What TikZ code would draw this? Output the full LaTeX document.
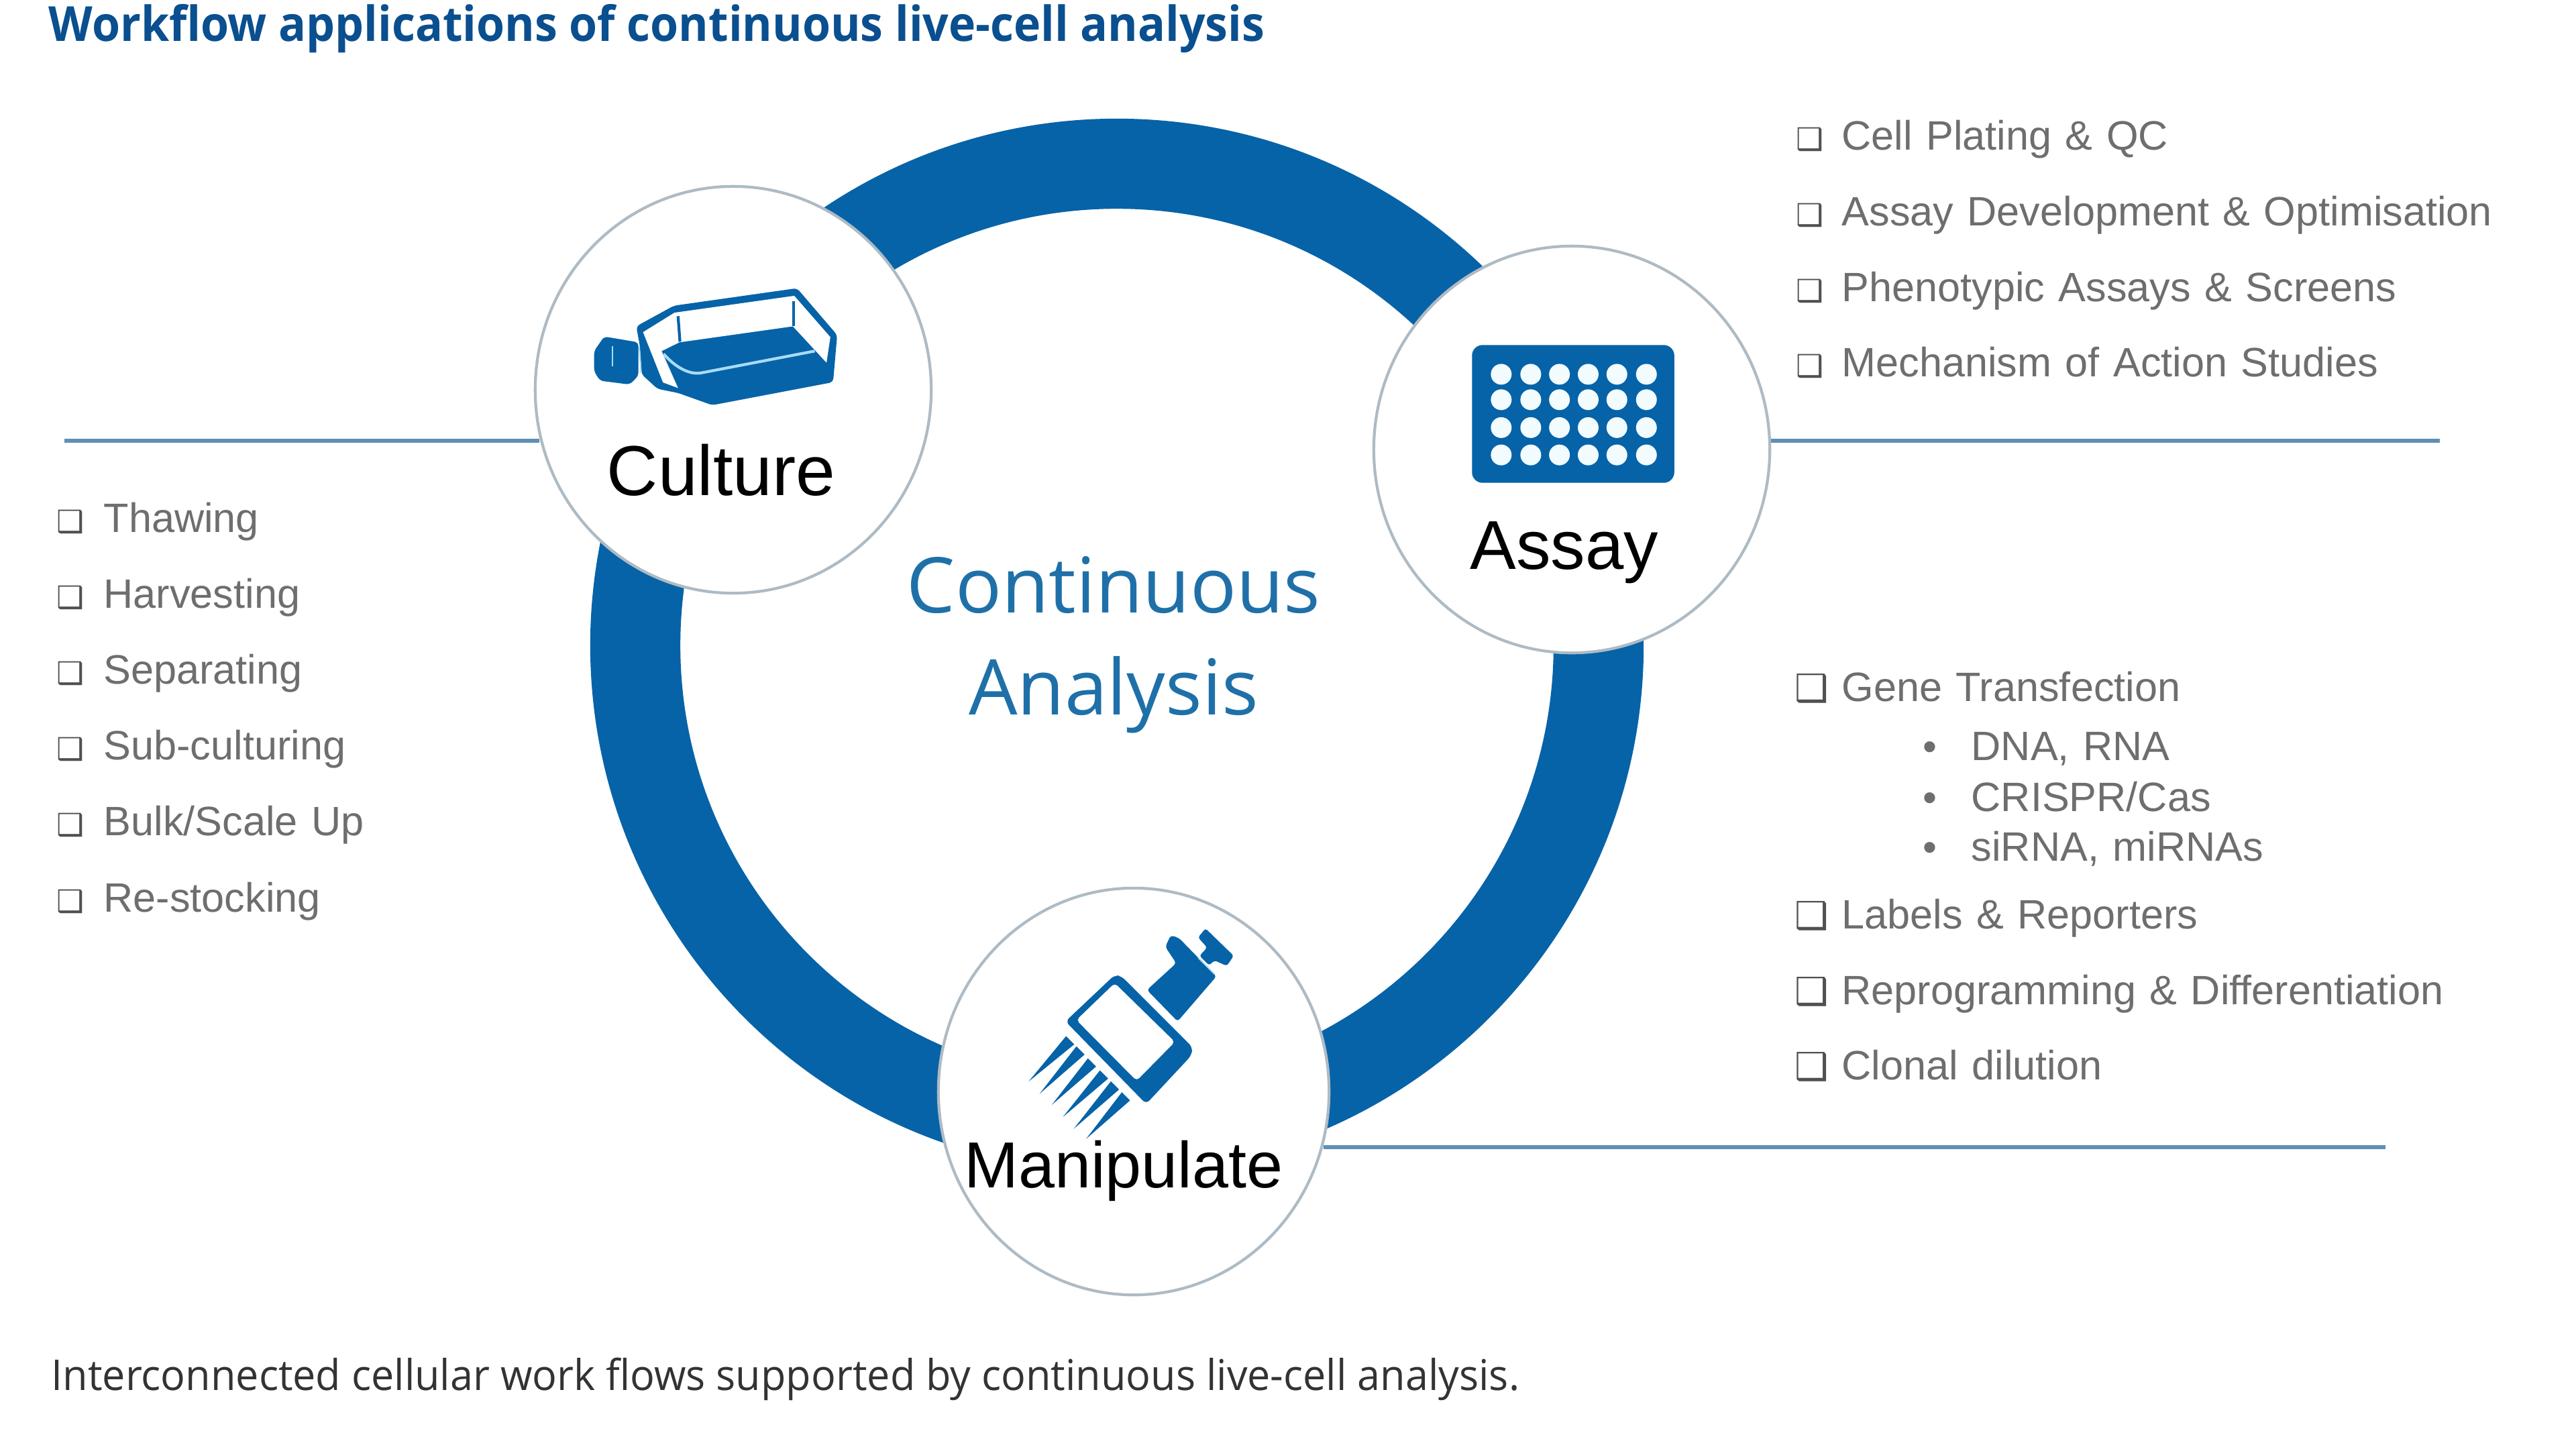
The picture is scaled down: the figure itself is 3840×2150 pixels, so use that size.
\documentclass[tikz,border=0pt]{standalone}
\usepackage{fontspec}
\usetikzlibrary{shapes.geometric}
\setmainfont{Liberation Sans}
\newfontfamily\headfont{Open Sans}
\newfontfamily\symfont{DejaVu Sans}
\definecolor{ringblue}{HTML}{0663A8}
\definecolor{titleblue}{HTML}{0A4F8F}
\definecolor{midblue}{HTML}{1F70A8}
\definecolor{ruleblue}{HTML}{5F8FB5}
\definecolor{circgray}{HTML}{AEBBC4}
\definecolor{listgray}{HTML}{6E6E6E}
\definecolor{tickgray}{HTML}{505050}
\definecolor{capgray}{HTML}{333333}
\definecolor{paleblue}{HTML}{A8DCF6}
\definecolor{wellwhite}{HTML}{F2FCFF}
\newcommand{\fsz}[1]{\fontsize{#1pt}{#1pt}\selectfont}
\newcommand{\widesp}{\spaceskip=1.2\fontdimen2\font\relax}
\tikzset{
  hub/.style={ellipse,draw=circgray,line width=1.2pt,fill=white,inner sep=0pt,minimum width=5.9cm,minimum height=6.06cm},
  hublabel/.style={anchor=base,inner sep=0pt,text=black},
  rulestyle/.style={draw=ruleblue,line width=1.6pt},
  item/.style={anchor=base west,inner sep=0pt,text=listgray,font=\fsz{17.4}\widesp},
  tick/.style={anchor=base west,inner sep=0pt,text=tickgray,font=\symfont\fsz{13}},
  ticklarge/.style={anchor=base west,inner sep=0pt,text=tickgray,font=\symfont\fsz{16}},
  dotmark/.style={anchor=base,inner sep=0pt,text=listgray,font=\fsz{17}},
  mid/.style={anchor=base,inner sep=0pt,text=midblue,font=\headfont\fsz{32.6}},
}
\begin{document}
\begin{tikzpicture}[x=0.01cm,y=-0.01cm]
\useasboundingbox (0,0) rectangle (3840,2150);
\fill[white] (0,0) rectangle (3840,2150);
% ring
\draw[ringblue,line width=38.2pt] (1665,962) circle [radius=718];
% hubs
\node[hub] (culture) at (1093,581) {};
\node[hub] (assay) at (2343,670) {};
\node[hub,minimum width=5.82cm] (manip) at (1690,1627) {};
% rules
\coordinate (ruleL) at (96,657);
\coordinate (ruleR) at (3637,657);
\coordinate (ruleB) at (3556,1710);
\draw[rulestyle] (ruleL) -- (culture.194.7 |- ruleL);
\draw[rulestyle] (assay.2.7 |- ruleR) -- (ruleR);
\draw[rulestyle] (manip.-16.6 |- ruleB) -- (ruleB);
% hub labels
\node[hublabel,font=\fsz{30}] (culturet) at (1075,738) {Culture};
\node[hublabel,font=\fsz{29.3}] (assayt) at (2332,848) {Assay};
\node[hublabel,font=\fsz{27.6}] (manipt) at (1675,1770) {Manipulate};
% flask icon
\begin{scope}[shift={(7.8cm,-2.5cm)},x=0.00408cm,y=-0.004337cm]
  \fill[ringblue,rounded corners=1.5pt] (295,580) -- (420,600) -- (420,715) -- (388,745) -- (280,732) -- (258,700) -- (258,630) -- cycle;
  \draw[paleblue,line width=0.5pt] (325,612) -- (325,682);
  \fill[ringblue,rounded corners=1.5pt] (412,545) -- (550,474) -- (1000,414) -- (1147,575) -- (1132,737) -- (690,816) -- (565,774) -- (490,760) -- (432,710) -- (425,610) -- cycle;
  \draw[paleblue,line width=0.6pt] (423,615) -- (430,705);
  \fill[white] (437,565) -- (552,498) -- (990,440) -- (1122,582) -- (1108,670) -- (985,545) -- (570,600) -- (505,630) -- (565,757) -- (510,738) -- cycle;
  \draw[ringblue,line width=1.2pt] (565,510) -- (572,598);
  \draw[ringblue,line width=1pt] (988,458) -- (988,545);
  \draw[paleblue,line width=1.2pt] (512,640) .. controls (560,690) and (610,712) .. (650,705) -- (1065,630);
\end{scope}
% plate icon
\begin{scope}[shift={(20.3cm,-3.6cm)},x=0.00408cm,y=-0.00408cm]
  \fill[ringblue,rounded corners=4.5pt] (400,378) rectangle (1140,882);
  \foreach \wx in {507,615,720,825,930,1038}
    \foreach \wy in {485,578,680,780}
      \fill[wellwhite] (\wx,\wy) circle [radius=38];
\end{scope}
% pipette icon
\begin{scope}[shift={(14cm,-13.2cm)},x=0.00408cm,y=-0.00408cm]
  \fill[ringblue,rounded corners=1.2pt] (758,380) -- (865,282) -- (825,222) -- (845,180) -- (875,190) -- (945,262) -- (1012,330) -- (870,495) -- cycle;
  \fill[ringblue,rounded corners=1pt] (945,188) -- (972,155) -- (1075,255) -- (1050,292) -- (1005,272) -- (985,290) -- (950,255) -- (978,225) -- cycle;
  \draw[paleblue,line width=0.5pt] (945,262) -- (1005,322);
  \fill[ringblue,rounded corners=2pt] (460,495) -- (640,325) -- (665,330) -- (925,590) -- (920,620) -- (755,797) -- cycle;
  \fill[white,rounded corners=1.5pt] (500,490) -- (640,355) -- (860,570) -- (720,712) -- cycle;
  \foreach \tx/\ty/\bx/\by in {325/715/478/565,365/760/516/602,410/800/558/646,450/845/602/690,490/888/642/730,535/925/682/770}
    \fill[ringblue] (\tx,\ty) -- (\bx-16,\by-16) -- (\bx+14,\by+14) -- cycle;
\end{scope}
% central text
\node[mid] (c1) at (1660,913) {Continuous};
\node[mid] (c2) at (1660,1065) {Analysis};
% title, caption
\node[anchor=base west,inner sep=0pt,text=titleblue,font=\headfont\bfseries\fsz{20.5}] (title) at (72,61) {\scalebox{0.943}[1]{Workflow applications of continuous live-cell analysis}};
\node[anchor=base west,inner sep=0pt,text=capgray,font=\headfont\fsz{18}] (caption) at (76,2072) {\scalebox{0.965}[1]{Interconnected cellular work flows supported by continuous live-cell analysis.}};
% left list
\foreach \n/\yy/\t in {l1/793/Thawing,l2/906/Harvesting,l3/1019/Separating,l4/1132/Sub-culturing,l5/1245/{Bulk/Scale Up},l6/1359/Re-stocking}{
  \node[tick] (\n b) at (84,\yy) {❑};
  \node[item] (\n) at (154,\yy) {\t};
}
% top-right list
\foreach \n/\yy/\t in {a1/223/Cell Plating \& QC,a2/336/Assay Development \& Optimisation,a3/449/Phenotypic Assays \& Screens,a4/561/Mechanism of Action Studies}{
  \node[tick] (\n b) at (2677,\yy) {❑};
  \node[item] (\n) at (2745,\yy) {\t};
}
% lower-right list
\foreach \n/\yy/\t in {m1/1045/Gene Transfection,m2/1384/Labels \& Reporters,m3/1497/Reprogramming \& Differentiation,m4/1609/Clonal dilution}{
  \node[ticklarge] (\n b) at (2675,\yy) {❑};
  \node[item] (\n) at (2745,\yy) {\t};
}
\foreach \n/\yy/\t in {s1/1133/{DNA, RNA},s2/1209/{CRISPR/Cas},s3/1283/{siRNA, miRNAs}}{
  \node[dotmark] (\n b) at (2877,\yy) {•};
  \node[item] (\n) at (2938,\yy) {\t};
}
\end{tikzpicture}
\end{document}
